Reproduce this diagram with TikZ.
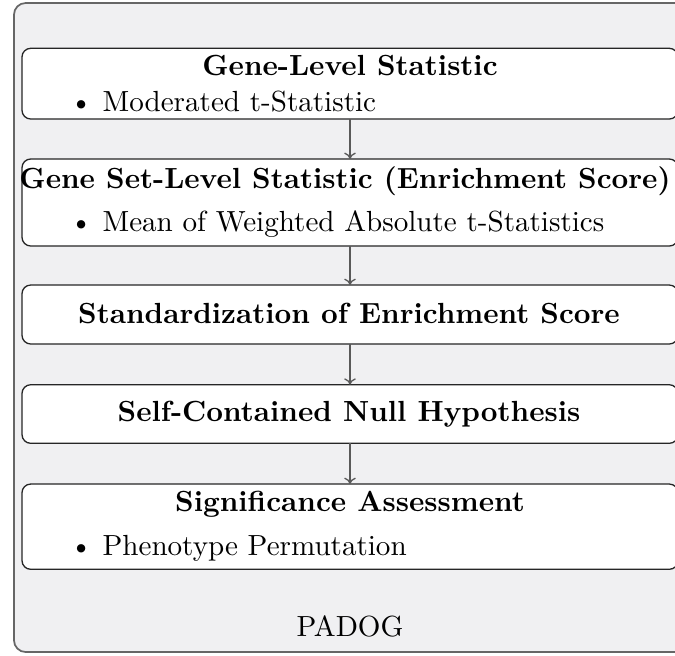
\documentclass[tikz,border=0pt]{standalone}
\usetikzlibrary{arrows.meta}
\definecolor{panelfill}{RGB}{240,240,242}
\begin{document}
\begin{tikzpicture}[x=0.3436pt,y=-0.3436pt,
  outer/.style={draw=black!60, fill=panelfill, rounded corners=4pt, line width=0.6pt},
  box/.style={draw=black!85, fill=white, rounded corners=3pt, line width=0.45pt,
    minimum width=225.4pt, inner sep=0pt, outer sep=0pt},
  title/.style={font=\bfseries, inner sep=0pt, anchor=base},
  itemtext/.style={inner sep=0pt, anchor=base west},
  plain/.style={inner sep=0pt, anchor=base},
  flow/.style={draw=black!65, line width=0.45pt, -{To[length=2.2pt,width=4pt]}}]
\useasboundingbox (0,0) rectangle (675,655);
\draw[outer] (14,3) rectangle (700,652);
% boxes
\node[box, minimum height=24.3pt] (b1) at (350,83.65) {};
\node[box, minimum height=29.9pt] (b2) at (350,202.5) {};
\node[box, minimum height=20.27pt] (b3) at (350,314.5) {};
\node[box, minimum height=20.13pt] (b4) at (350,414) {};
\node[box, minimum height=29.3pt] (b5) at (350,526.65) {};
% texts
\node[title] (t1) at (350,75) {Gene-Level Statistic};
\node[itemtext] (i1) at (102,111.7) {\llap{\textbullet\hspace{3.5pt}}Moderated t-Statistic};
\node[title] (t2) at (345,188.3) {Gene Set-Level Statistic (Enrichment Score)};
\node[itemtext] (i2) at (102,231.7) {\llap{\textbullet\hspace{3.5pt}}Mean of Weighted Absolute t-Statistics};
\node[title] (t3) at (349,323.3) {Standardization of Enrichment Score};
\node[title] (t4) at (349,421.7) {Self-Contained Null Hypothesis};
\node[title] (t5) at (350,511.7) {Significance Assessment};
\node[itemtext] (i5) at (102,555) {\llap{\textbullet\hspace{3.5pt}}Phenotype Permutation};
\node[plain] (lbl) at (350,636.7) {PADOG};
% arrows
\draw[flow] (b1.south) -- (b2.north);
\draw[flow] (b2.south) -- (b3.north);
\draw[flow] (b3.south) -- (b4.north);
\draw[flow] (b4.south) -- (b5.north);
\end{tikzpicture}
\end{document}
